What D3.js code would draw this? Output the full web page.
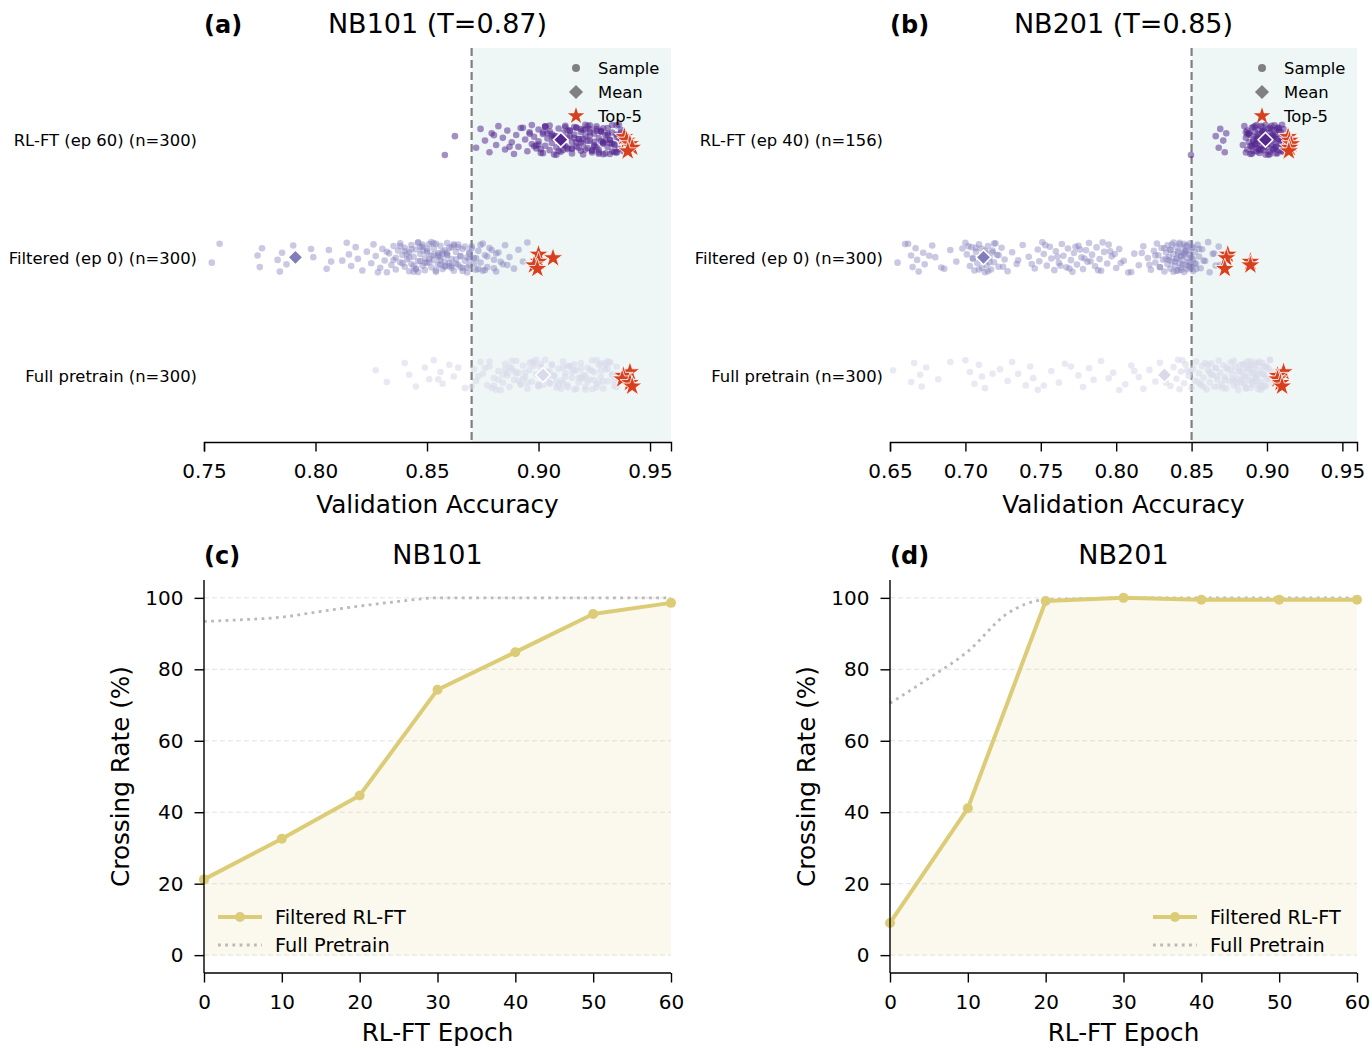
<!DOCTYPE html>
<html>
<head>
<meta charset="utf-8">
<script src="https://cdn.jsdelivr.net/npm/d3@7"></script>
<style>
  body { margin: 0; background: #fff; }
  text { font-family: "DejaVu Sans", sans-serif; fill: #000; }
</style>
</head>
<body>
<div id="chart"></div>
<script>
// ---- strip plot data (validation accuracies) ----
const rowLabels101 = ['RL-FT (ep 60) (n=300)', 'Filtered (ep 0) (n=300)', 'Full pretrain (n=300)'];
const rowLabels201 = ['RL-FT (ep 40) (n=156)', 'Filtered (ep 0) (n=300)', 'Full pretrain (n=300)'];

const nb101RL = [0.858,0.8625,0.872,0.874,0.876,0.878,0.879,0.881,0.882,0.884,0.885,0.886,0.888,0.889,0.890,0.891,0.893,0.894,0.895,0.896,0.897,0.897,0.898,0.899,0.900,0.900,0.901,0.902,0.903,0.903,0.904,0.905,0.905,0.906,0.907,0.907,0.908,0.909,0.909,0.910,0.911,0.911,0.912,0.913,0.913,0.914,0.915,0.915,0.916,0.917,0.917,0.918,0.919,0.919,0.920,0.921,0.921,0.922,0.923,0.923,0.924,0.925,0.925,0.926,0.927,0.927,0.928,0.929,0.929,0.930,0.931,0.931,0.932,0.933,0.933,0.934,0.935,0.935,0.936,0.937,0.938,0.902,0.906,0.912,0.916,0.920,0.924,0.928,0.932,0.908,0.914,0.918,0.926,0.930,0.934,0.904,0.910,0.922,0.936,0.901,0.913,0.919,0.927,0.931,0.925,0.917,0.911,0.909,0.923,0.929,0.933,0.906,0.915,0.921,0.928,0.935,
  0.896,0.899,0.903,0.907,0.911,0.914,0.917,0.920,0.923,0.926,0.929,0.932,0.935,0.937,0.900,0.905,0.910,0.915,0.920,0.925,0.930,0.935,0.898,0.912,0.918,0.924,0.928,0.933,0.936,0.908,0.913,0.919,0.922,0.927,0.931,0.934,0.903,0.916,0.921,0.926,0.929,0.932,0.880,0.887,0.892,0.937,0.938,0.902,0.911,0.923];
const nb101Filt = [0.7535,0.757,0.774,0.775,0.776,0.783,0.784,0.785,0.787,0.790,0.799,0.805,0.806,0.807,0.814,0.815,0.816,0.818,0.819,0.821,0.823,0.825,0.826,0.827,0.829,0.830,0.831,0.832,0.833,0.834,0.835,0.836,0.836,0.837,0.838,0.838,0.839,0.840,0.840,0.841,0.842,0.842,0.843,0.843,0.844,0.845,0.845,0.846,0.846,0.847,0.848,0.848,0.849,0.849,0.850,0.850,0.851,0.852,0.852,0.853,0.853,0.854,0.855,0.855,0.856,0.856,0.857,0.858,0.858,0.859,0.859,0.860,0.861,0.861,0.862,0.863,0.863,0.864,0.865,0.866,0.866,0.867,0.868,0.869,0.869,0.870,0.871,0.872,0.873,0.874,0.875,0.876,0.877,0.878,0.880,0.881,0.882,0.884,0.885,0.887,0.889,0.891,0.893,0.895,0.841,0.844,0.847,0.851,0.854,0.857,0.860,0.862,0.865,0.868,0.850,0.856,0.846,0.859,0.864,
  0.838,0.842,0.845,0.848,0.851,0.853,0.855,0.858,0.860,0.863,0.866,0.869,0.871,0.874,0.877,0.880,0.843,0.847,0.852,0.857,0.861,0.867,0.872,0.876,0.840,0.849,0.854,0.859,0.865,0.870,0.835,0.844,0.850,0.856,0.862,0.868,0.873,0.879,0.883,0.846,0.853,0.858,0.864,0.869,0.875,0.832,0.839,0.848,0.855,0.861,0.798,0.812,0.828,0.881,0.886];
const nb101Full = [0.827,0.832,0.840,0.842,0.845,0.849,0.851,0.853,0.856,0.857,0.860,0.862,0.867,0.871,0.872,0.874,0.875,0.877,0.878,0.880,0.881,0.882,0.884,0.885,0.886,0.887,0.888,0.889,0.890,0.891,0.892,0.893,0.894,0.895,0.896,0.897,0.898,0.899,0.900,0.901,0.902,0.903,0.904,0.905,0.906,0.907,0.908,0.909,0.910,0.911,0.912,0.913,0.914,0.915,0.916,0.917,0.918,0.919,0.920,0.921,0.922,0.923,0.924,0.925,0.926,0.927,0.928,0.929,0.930,0.931,0.932,0.933,0.934,0.935,0.936,0.883,0.889,0.895,0.901,0.907,0.913,0.919,0.925,0.931,0.886,0.892,0.898,0.904,0.910,0.916,0.922,0.928,0.934,0.900,0.911,0.920,0.926,0.915,0.905,0.930,
  0.873,0.879,0.885,0.891,0.897,0.903,0.909,0.914,0.918,0.921,0.924,0.927,0.930,0.933,0.935,0.876,0.882,0.888,0.894,0.900,0.906,0.912,0.917,0.923,0.929,0.932,0.936,0.880,0.887,0.893,0.899,0.905,0.911,0.916,0.921,0.926,0.931,0.934,0.878,0.890,0.902,0.913,0.919,0.924,0.928,0.908,0.896,0.884,0.870,0.864,0.855];

const nb201RL = [0.8496,0.866,0.868,0.869,0.871,0.872,0.873,0.884,0.885,0.886,0.887,0.887,0.888,0.889,0.889,0.890,0.890,0.891,0.891,0.892,0.892,0.893,0.893,0.894,0.894,0.895,0.895,0.896,0.896,0.897,0.897,0.898,0.898,0.899,0.899,0.900,0.900,0.901,0.901,0.902,0.902,0.903,0.903,0.904,0.904,0.905,0.905,0.906,0.906,0.907,0.907,0.908,0.908,0.909,0.909,0.910,0.910,0.911,0.911,0.912,0.886,0.888,0.890,0.892,0.894,0.896,0.898,0.900,0.902,0.904,0.906,0.908,0.910,0.893,0.897,0.901,0.905,0.899,0.895,0.903,0.891,0.907,
  0.887,0.889,0.891,0.893,0.895,0.897,0.899,0.901,0.903,0.905,0.907,0.909,0.911,0.888,0.892,0.896,0.900,0.904,0.908,0.912,0.890,0.894,0.898,0.902,0.906,0.910,0.886,0.893,0.899,0.905];
const nb201Filt = [0.655,0.662,0.664,0.665,0.667,0.668,0.669,0.672,0.673,0.678,0.680,0.686,0.690,0.694,0.700,0.701,0.703,0.704,0.705,0.706,0.707,0.708,0.709,0.710,0.711,0.711,0.712,0.713,0.714,0.714,0.715,0.716,0.717,0.718,0.719,0.720,0.721,0.722,0.724,0.726,0.728,0.731,0.734,0.738,0.742,0.746,0.748,0.749,0.751,0.752,0.754,0.756,0.757,0.759,0.760,0.762,0.764,0.765,0.767,0.768,0.770,0.771,0.772,0.774,0.775,0.777,0.778,0.780,0.781,0.782,0.784,0.786,0.787,0.789,0.790,0.792,0.794,0.795,0.797,0.800,0.802,0.805,0.808,0.812,0.815,0.818,0.821,0.823,0.825,0.826,0.827,0.828,0.829,0.830,0.831,0.832,0.833,0.834,0.834,0.835,0.836,0.836,0.837,0.838,0.838,0.839,0.840,0.840,0.841,0.841,0.842,0.842,0.843,0.843,0.844,0.844,0.845,0.845,0.846,0.846,0.847,0.847,0.848,0.848,0.849,0.849,0.850,0.850,0.851,0.851,0.852,0.853,0.854,0.855,0.856,0.857,0.859,0.861,0.864,0.866,0.868,0.840,0.843,0.846,0.849,0.845,
  0.826,0.829,0.832,0.835,0.838,0.841,0.844,0.847,0.850,0.853,0.836,0.839,0.842,0.845,0.848,0.851,0.833,0.840,0.846,0.852,0.837,0.843,0.849,0.855,0.858,0.862,0.865,0.869,0.702,0.705,0.709,0.713,0.716,0.719,0.722,0.725,0.707,0.711,0.715,0.718,0.744,0.753,0.761,0.769,0.776,0.783,0.791,0.799,0.763,0.773,0.779,0.788,0.796,0.803,0.660,0.676,0.684,0.698,0.735,0.810,0.817,0.822];
const nb201Full = [0.652,0.664,0.666,0.670,0.671,0.674,0.682,0.700,0.703,0.706,0.709,0.711,0.713,0.723,0.728,0.731,0.735,0.740,0.743,0.745,0.748,0.757,0.762,0.766,0.775,0.778,0.782,0.785,0.790,0.798,0.806,0.810,0.815,0.818,0.822,0.826,0.829,0.834,0.836,0.838,0.840,0.841,0.843,0.845,0.846,0.848,0.850,0.851,0.852,0.853,0.855,0.856,0.857,0.858,0.860,0.861,0.862,0.863,0.864,0.865,0.866,0.867,0.868,0.869,0.870,0.871,0.872,0.873,0.874,0.875,0.876,0.877,0.878,0.879,0.880,0.881,0.882,0.883,0.884,0.885,0.886,0.887,0.888,0.889,0.890,0.891,0.892,0.893,0.894,0.895,0.896,0.897,0.898,0.899,0.900,0.901,0.902,0.903,0.904,0.885,0.887,0.889,0.891,0.893,0.895,0.897,0.899,0.888,0.892,0.896,0.884,0.890,0.894,0.898,0.858,0.866,0.872,0.878,0.862,
  0.880,0.882,0.884,0.886,0.888,0.890,0.892,0.894,0.896,0.898,0.900,0.902,0.881,0.885,0.889,0.893,0.897,0.901,0.883,0.887,0.891,0.895,0.899,0.903,0.842,0.847,0.854,0.859,0.863,0.868,0.873,0.877,0.844,0.849,0.856,0.861,0.867,0.871,0.876,0.879,0.690,0.718,0.752,0.770,0.795,0.802,0.812,0.833];

const means101 = [0.910, 0.791, 0.902];
const means201 = [0.899, 0.712, 0.832];
const top101 = [[0.9385,0.9395,0.941,0.942,0.940], [0.900,0.9065,0.900,0.898,0.8995], [0.941,0.938,0.9375,0.941,0.942]];
const top201 = [[0.914,0.915,0.916,0.915,0.9145], [0.874,0.873,0.889,0.889,0.872], [0.911,0.907,0.907,0.909,0.910]];

const accTicks101 = [0.75, 0.80, 0.85, 0.90, 0.95];
const accTicks201 = [0.65, 0.70, 0.75, 0.80, 0.85, 0.90, 0.95];

// ---- crossing rate data ----
const epochs = [0, 10, 20, 30, 40, 50, 60];
const cross101 = [21.2, 32.6, 44.7, 74.3, 84.8, 95.5, 98.6];
const cross201 = [9.0, 41.1, 99.1, 100, 99.5, 99.5, 99.5];
const fullEpochs = [0, 5, 10, 15, 20, 25, 30, 40, 50, 60];
const full101 = [93.4, 93.9, 94.6, 96.2, 97.7, 99.0, 100, 100, 100, 100];
const full201 = [70.5, 77.5, 85.0, 95.5, 99.5, 99.8, 100, 100, 100, 100];
const rateTicks = [0, 20, 40, 60, 80, 100];

const rowColors = ['#54278f', '#807dba', '#dadaeb'];
const rowAlpha = [0.52, 0.42, 0.6];
const starColor = '#d7401f';
const sand = '#ddcc77';
const dotGray = '#bababa';

const svg = d3.select('#chart').append('svg')
  .attr('width', 1372).attr('height', 1048);

const jit = i => (((i * 0.61803398875) % 1) - 0.5) * 0.26;

function styleAxis(a) {
  a.select('.domain').attr('stroke', '#000').attr('stroke-width', 1.4);
  a.selectAll('.tick line').attr('stroke', '#000').attr('stroke-width', 1.4);
  a.selectAll('.tick text').attr('font-size', 20)
    .attr('font-family', '"DejaVu Sans", sans-serif').attr('fill', '#000');
}

function stripPanel(p) {
  const x = d3.scaleLinear().domain(p.xDomain).range([p.left, p.right]);
  const y = d3.scaleLinear().domain([-0.57, 2.78]).range([442, 48]);
  const g = svg.append('g');
  const clipId = 'clip' + p.key;
  svg.append('clipPath').attr('id', clipId).append('rect')
    .attr('x', p.left).attr('y', 48).attr('width', p.right - p.left).attr('height', 394);

  // shaded area above threshold
  g.append('rect')
    .attr('x', x(p.threshold)).attr('y', 48)
    .attr('width', p.right - x(p.threshold)).attr('height', 394)
    .attr('fill', '#eef7f6');

  g.append('line')
    .attr('x1', x(p.threshold)).attr('x2', x(p.threshold))
    .attr('y1', 48).attr('y2', 442)
    .attr('stroke', '#808080').attr('stroke-width', 2.2)
    .attr('stroke-dasharray', '8,4');

  const pts = g.append('g').attr('clip-path', `url(#${clipId})`);
  p.rows.forEach((vals, r) => {
    const pos = 2 - r;
    pts.append('g').selectAll('circle')
      .data(vals)
      .join('circle')
      .attr('cx', d => x(d))
      .attr('cy', (d, i) => y(pos + jit(i + r * 7)))
      .attr('r', 3.3)
      .attr('fill', rowColors[r])
      .attr('fill-opacity', rowAlpha[r]);
  });
  p.rows.forEach((vals, r) => {
    const pos = 2 - r;
    pts.append('path')
      .attr('d', d3.symbol(d3.symbolSquare, 110)())
      .attr('transform', `translate(${x(p.means[r])},${y(pos)}) rotate(45)`)
      .attr('fill', rowColors[r])
      .attr('stroke', '#fff').attr('stroke-width', 1.5);
    pts.append('g').selectAll('path')
      .data(p.tops[r])
      .join('path')
      .attr('d', d3.symbol(d3.symbolStar, 125)())
      .attr('transform', (d, i) => `translate(${x(d)},${y(pos + jit(i * 3 + 1) * 0.8)})`)
      .attr('fill', starColor)
      .attr('stroke', '#fff').attr('stroke-width', 0.8);
  });

  // row labels
  p.labels.forEach((lab, r) => {
    g.append('text')
      .attr('x', p.left - 7).attr('y', y(2 - r) + 1)
      .attr('dy', '0.35em')
      .attr('text-anchor', 'end')
      .attr('font-size', 16.4)
      .text(lab);
  });

  const ax = g.append('g')
    .attr('transform', 'translate(0,442)')
    .call(d3.axisBottom(x).tickValues(p.ticks).tickFormat(d3.format('.2f'))
      .tickSizeOuter(0).tickSize(9.5).tickPadding(12));
  styleAxis(ax);

  g.append('text')
    .attr('x', (p.left + p.right) / 2).attr('y', 513)
    .attr('text-anchor', 'middle').attr('font-size', 24.7)
    .text('Validation Accuracy');

  // titles
  g.append('text').attr('x', p.left).attr('y', 33)
    .attr('font-size', 24).attr('font-weight', 'bold').text(p.tag);
  g.append('text').attr('x', (p.left + p.right) / 2).attr('y', 33)
    .attr('text-anchor', 'middle').attr('font-size', 27).text(p.title);

  // legend
  const lx = p.right - 95;
  const leg = g.append('g');
  leg.append('circle').attr('cx', lx).attr('cy', 68).attr('r', 4).attr('fill', '#808080');
  leg.append('path').attr('d', d3.symbol(d3.symbolSquare, 100)())
    .attr('transform', `translate(${lx},92) rotate(45)`).attr('fill', '#808080');
  leg.append('path').attr('d', d3.symbol(d3.symbolStar, 85)())
    .attr('transform', `translate(${lx},116)`).attr('fill', starColor);
  ['Sample', 'Mean', 'Top-5'].forEach((t, i) => {
    leg.append('text').attr('x', lx + 22).attr('y', 68 + i * 24)
      .attr('dy', '0.35em').attr('font-size', 16.4).text(t);
  });
}

function linePanel(p) {
  const x = d3.scaleLinear().domain([0, 60]).range([p.left, p.right]);
  const y = d3.scaleLinear().domain([-5, 105]).range([973, 580]);
  const g = svg.append('g');

  g.append('g').selectAll('line')
    .data(rateTicks)
    .join('line')
    .attr('x1', p.left).attr('x2', p.right)
    .attr('y1', d => y(d)).attr('y2', d => y(d))
    .attr('stroke', '#e2e2e2').attr('stroke-width', 1)
    .attr('stroke-dasharray', '5,3');

  const pts = epochs.map((e, i) => [e, p.cross[i]]);
  g.append('path')
    .datum(pts)
    .attr('d', d3.area().x(d => x(d[0])).y0(y(0)).y1(d => y(d[1])))
    .attr('fill', sand).attr('fill-opacity', 0.12);

  g.append('path')
    .datum(fullEpochs.map((e, i) => [e, p.full[i]]))
    .attr('d', d3.line().x(d => x(d[0])).y(d => y(d[1])).curve(d3.curveMonotoneX))
    .attr('fill', 'none').attr('stroke', dotGray).attr('stroke-width', 2.8)
    .attr('stroke-dasharray', '2.8,4.4');

  g.append('path')
    .datum(pts)
    .attr('d', d3.line().x(d => x(d[0])).y(d => y(d[1])))
    .attr('fill', 'none').attr('stroke', sand).attr('stroke-width', 4)
    .attr('stroke-linejoin', 'round');
  g.append('g').selectAll('circle')
    .data(pts)
    .join('circle')
    .attr('cx', d => x(d[0])).attr('cy', d => y(d[1]))
    .attr('r', 5).attr('fill', sand);

  const ax = g.append('g').attr('transform', 'translate(0,973)')
    .call(d3.axisBottom(x).tickValues(epochs).tickSizeOuter(0).tickSize(9.5).tickPadding(12));
  const ay = g.append('g').attr('transform', `translate(${p.left},0)`)
    .call(d3.axisLeft(y).tickValues(rateTicks).tickSizeOuter(0).tickSize(9.5).tickPadding(11));
  styleAxis(ax);
  styleAxis(ay);
  // left spine spans the whole axes height
  ay.select('.domain').attr('d', `M0,${y(105)}V${y(-5)}`);
  ax.select('.domain').attr('d', `M${p.left},0H${p.right}`);

  g.append('text')
    .attr('x', (p.left + p.right) / 2).attr('y', 1041)
    .attr('text-anchor', 'middle').attr('font-size', 24.7).text('RL-FT Epoch');
  g.append('text')
    .attr('transform', `translate(${p.left - 75},${(580 + 973) / 2}) rotate(-90)`)
    .attr('text-anchor', 'middle').attr('font-size', 24.7).text('Crossing Rate (%)');

  g.append('text').attr('x', p.left).attr('y', 564)
    .attr('font-size', 24).attr('font-weight', 'bold').text(p.tag);
  g.append('text').attr('x', (p.left + p.right) / 2).attr('y', 564)
    .attr('text-anchor', 'middle').attr('font-size', 27).text(p.title);

  // legend
  const lx = p.legendX;
  const leg = g.append('g');
  leg.append('line').attr('x1', lx).attr('x2', lx + 44).attr('y1', 917).attr('y2', 917)
    .attr('stroke', sand).attr('stroke-width', 4);
  leg.append('circle').attr('cx', lx + 22).attr('cy', 917).attr('r', 5).attr('fill', sand);
  leg.append('line').attr('x1', lx).attr('x2', lx + 44).attr('y1', 945).attr('y2', 945)
    .attr('stroke', dotGray).attr('stroke-width', 2.8).attr('stroke-dasharray', '2.8,4.4');
  ['Filtered RL-FT', 'Full Pretrain'].forEach((t, i) => {
    leg.append('text').attr('x', lx + 57).attr('y', 917 + i * 28)
      .attr('dy', '0.35em').attr('font-size', 19.3).text(t);
  });
}

stripPanel({ key: 'a', left: 204, right: 671, xDomain: [0.75, 0.9594], threshold: 0.87,
  rows: [nb101RL, nb101Filt, nb101Full], means: means101, tops: top101,
  labels: rowLabels101, ticks: accTicks101, tag: '(a)', title: 'NB101 (T=0.87)' });
stripPanel({ key: 'b', left: 890, right: 1357, xDomain: [0.65, 0.9597], threshold: 0.85,
  rows: [nb201RL, nb201Filt, nb201Full], means: means201, tops: top201,
  labels: rowLabels201, ticks: accTicks201, tag: '(b)', title: 'NB201 (T=0.85)' });
linePanel({ left: 204, right: 671, cross: cross101, full: full101, legendX: 218,
  tag: '(c)', title: 'NB101' });
linePanel({ left: 890, right: 1357, cross: cross201, full: full201, legendX: 1153,
  tag: '(d)', title: 'NB201' });
</script>
</body>
</html>
